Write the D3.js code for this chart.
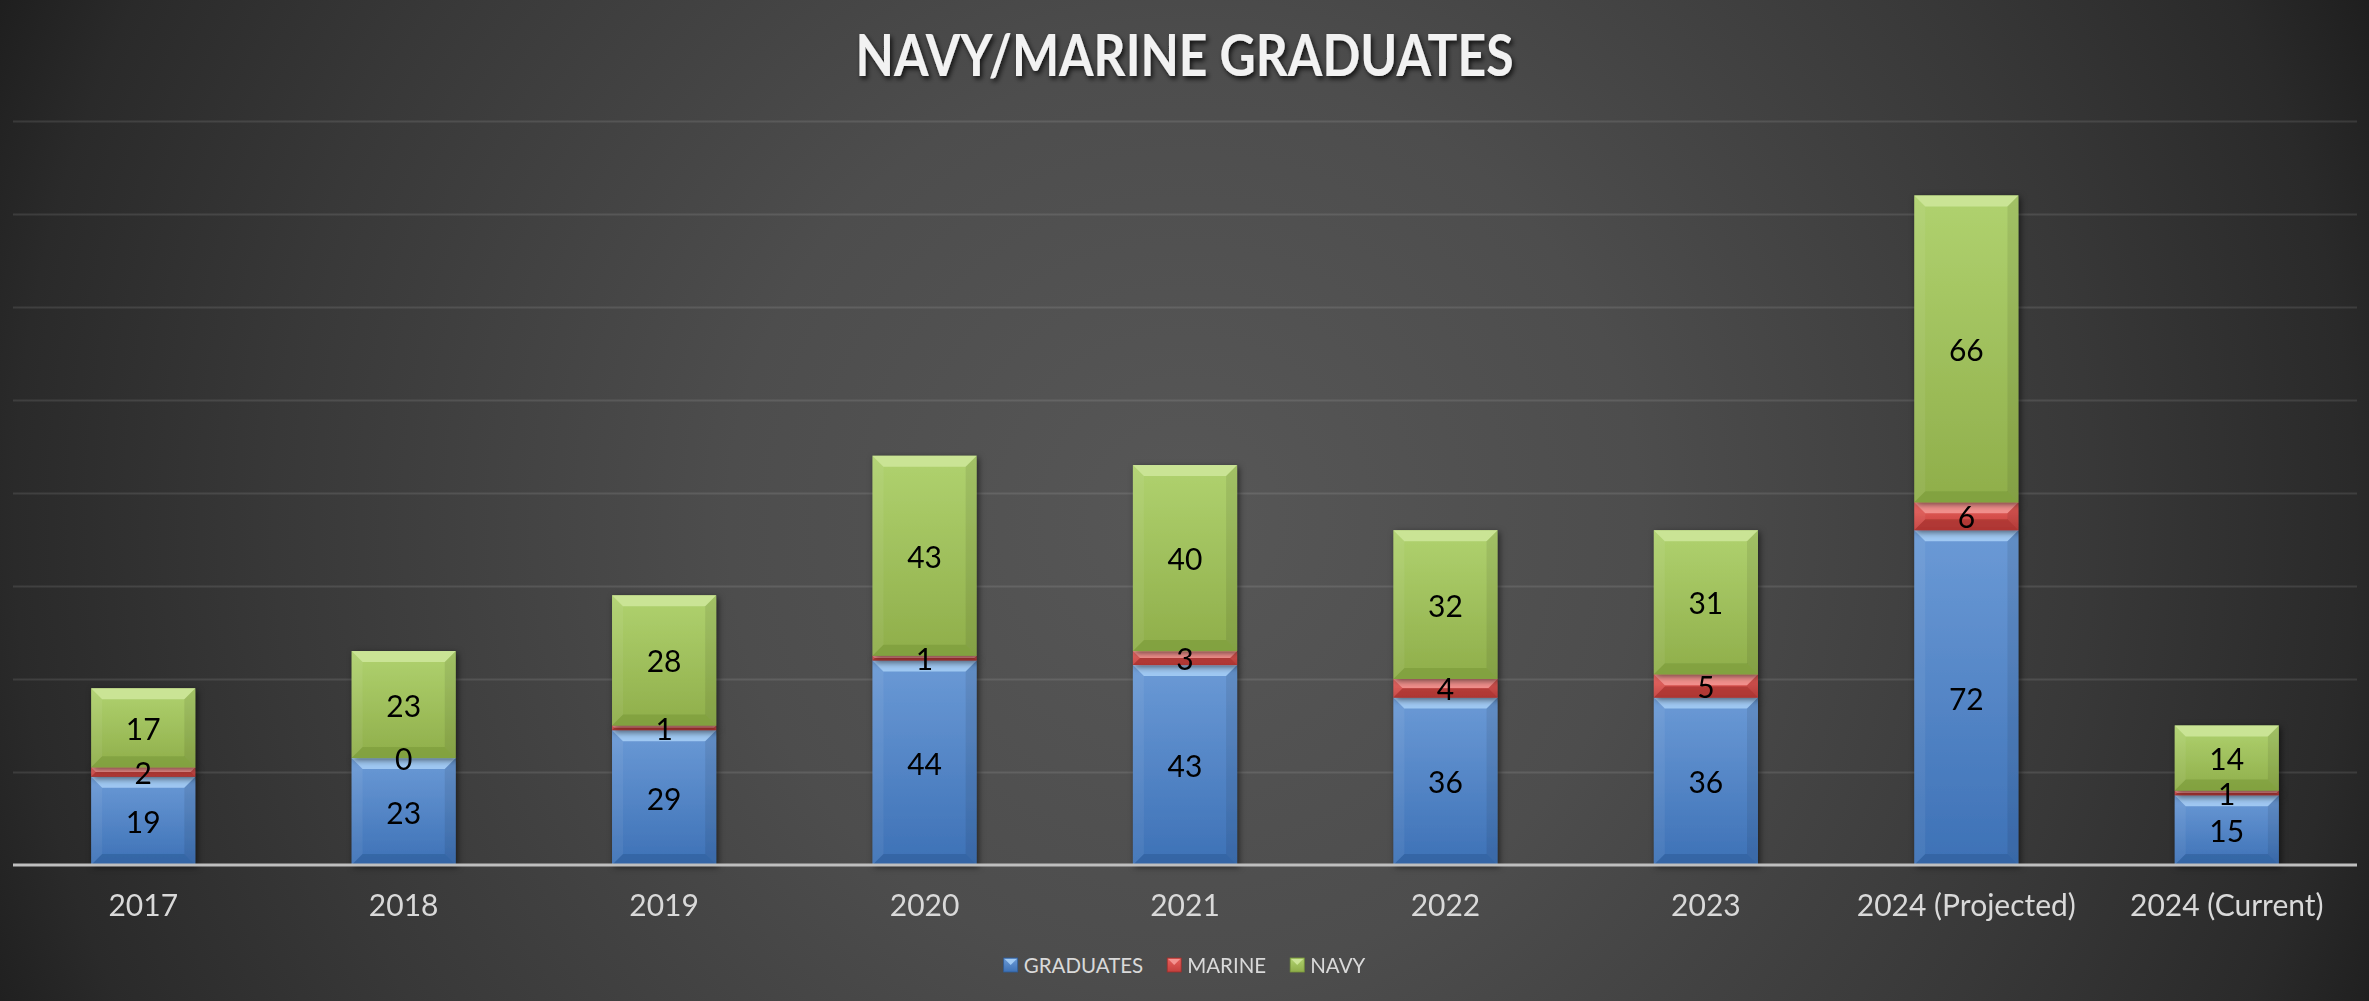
<!DOCTYPE html>
<html>
<head>
<meta charset="utf-8">
<script src="https://cdn.jsdelivr.net/npm/d3@7"></script>
<style>
  html, body { margin: 0; padding: 0; background: #222; overflow: hidden; }
  svg { display: block; }
</style>
</head>
<body>
<div id="chart"></div>
<script>
// chart data
const categories = ["2017", "2018", "2019", "2020", "2021", "2022", "2023", "2024 (Projected)", "2024 (Current)"];
const graduates = [19, 23, 29, 44, 43, 36, 36, 72, 15];
const marine = [2, 0, 1, 1, 3, 4, 5, 6, 1];
const navy = [17, 23, 28, 43, 40, 32, 31, 66, 14];
const seriesNames = ["GRADUATES", "MARINE", "NAVY"];
const yTicks = [0, 20, 40, 60, 80, 100, 120, 140, 160];
const chartTitle = "NAVY/MARINE GRADUATES";

const W = 2369, H = 1001;
const margin = {top: 121, right: 12, bottom: 136, left: 13};
const font = "Lato, 'Open Sans', sans-serif";

// base / light / dark colours for each series
const palette = {
    GRADUATES: {top: "#6b9ad6", bottom: "#3d71b6", light: "#a9d0f7", dark: "#2f5d99"},
    MARINE: {top: "#e8605c", bottom: "#c4403d", light: "#f59a97", dark: "#9e2f2c"},
    NAVY: {top: "#b0d26f", bottom: "#8fae4a", light: "#cfe79c", dark: "#7a9a3a"}
};

const svg = d3.select("#chart").append("svg")
    .attr("width", W)
    .attr("height", H);

const defs = svg.append("defs");

// radial background
const bg = defs.append("radialGradient")
    .attr("id", "bg")
    .attr("gradientUnits", "userSpaceOnUse")
    .attr("cx", W / 2).attr("cy", 520).attr("r", 1300);
[[0, "#575757"], [0.35, "#4d4d4d"], [0.7, "#383838"], [0.9, "#2a2a2a"], [1, "#1e1e1e"]].forEach(s => {
    bg.append("stop").attr("offset", s[0]).attr("stop-color", s[1]);
});

seriesNames.forEach(name => {
    const g = defs.append("linearGradient")
        .attr("id", "grad-" + name)
        .attr("x1", 0).attr("y1", 0).attr("x2", 0).attr("y2", 1);
    g.append("stop").attr("offset", 0).attr("stop-color", palette[name].top);
    g.append("stop").attr("offset", 1).attr("stop-color", palette[name].bottom);
});

const shadow = defs.append("filter").attr("id", "shadow")
    .attr("x", "-20%").attr("y", "-20%").attr("width", "140%").attr("height", "140%");
shadow.append("feDropShadow")
    .attr("dx", 2).attr("dy", 2).attr("stdDeviation", 3)
    .attr("flood-color", "#000").attr("flood-opacity", 0.55);

const titleShadow = defs.append("filter").attr("id", "tshadow")
    .attr("x", "-10%").attr("y", "-30%").attr("width", "120%").attr("height", "160%");
titleShadow.append("feDropShadow")
    .attr("dx", 2).attr("dy", 3).attr("stdDeviation", 2.5)
    .attr("flood-color", "#000").attr("flood-opacity", 0.75);

svg.append("rect")
    .attr("width", W).attr("height", H)
    .attr("fill", "url(#bg)");

const innerW = W - margin.left - margin.right;
const innerH = H - margin.top - margin.bottom;

const g = svg.append("g")
    .attr("transform", "translate(" + margin.left + "," + margin.top + ")");

const x = d3.scaleBand()
    .domain(categories)
    .range([0, innerW])
    .paddingInner(0.6)
    .paddingOuter(0.3);

const y = d3.scaleLinear()
    .domain([0, 160])
    .range([innerH, 0]);

// gridlines
const yAxis = d3.axisLeft(y).tickValues(yTicks).tickSize(-innerW).tickFormat("");
const grid = g.append("g").attr("class", "grid").call(yAxis);
grid.select(".domain").remove();
grid.selectAll(".tick line")
    .attr("stroke", "#ffffff")
    .attr("stroke-opacity", 0.1)
    .attr("stroke-width", 2);
grid.selectAll(".tick").filter(d => d === 0).remove();

// stacked data
const rows = categories.map((c, i) => ({
    category: c,
    GRADUATES: graduates[i],
    MARINE: marine[i],
    NAVY: navy[i]
}));
const stacked = d3.stack().keys(seriesNames)(rows);

function bevel(sel, name) {
    sel.each(function (d) {
        const el = d3.select(this);
        const bx = x(d.data.category);
        const bw = x.bandwidth();
        const by = y(d[1]);
        const bh = y(d[0]) - y(d[1]);
        if (bh <= 0) return;
        const b = Math.min(11, bh / 2, bw / 2);
        el.append("rect")
            .attr("x", bx).attr("y", by)
            .attr("width", bw).attr("height", bh)
            .attr("fill", "url(#grad-" + name + ")");
        const pts = (arr) => arr.map(p => p.join(",")).join(" ");
        // top bevel
        el.append("polygon")
            .attr("points", pts([[bx, by], [bx + bw, by], [bx + bw - b, by + b], [bx + b, by + b]]))
            .attr("fill", palette[name].light).attr("opacity", 0.85);
        // bottom bevel
        el.append("polygon")
            .attr("points", pts([[bx, by + bh], [bx + bw, by + bh], [bx + bw - b, by + bh - b], [bx + b, by + bh - b]]))
            .attr("fill", palette[name].dark).attr("opacity", 0.6);
        // left / right bevel
        el.append("polygon")
            .attr("points", pts([[bx, by], [bx + b, by + b], [bx + b, by + bh - b], [bx, by + bh]]))
            .attr("fill", "#ffffff").attr("opacity", 0.06);
        el.append("polygon")
            .attr("points", pts([[bx + bw, by], [bx + bw - b, by + b], [bx + bw - b, by + bh - b], [bx + bw, by + bh]]))
            .attr("fill", "#000000").attr("opacity", 0.08);
    });
}

const layers = g.selectAll(".layer")
    .data(stacked)
    .join("g")
    .attr("class", "layer")
    .attr("filter", "url(#shadow)");

layers.each(function (s) {
    d3.select(this).selectAll(".seg")
        .data(s)
        .join("g")
        .attr("class", "seg")
        .call(bevel, s.key);
});

// x axis baseline + labels
const xAxis = d3.axisBottom(x).tickSize(0).tickPadding(30);
const xg = g.append("g")
    .attr("transform", "translate(0," + innerH + ")")
    .call(xAxis);
xg.select(".domain")
    .attr("d", "M0,0H" + innerW)
    .attr("stroke", "#bfbfbf")
    .attr("stroke-width", 3);
xg.selectAll("text")
    .attr("fill", "#d9d9d9")
    .style("font-family", font)
    .style("font-size", "30px");

// data labels
stacked.forEach(s => {
    g.append("g").selectAll("text")
        .data(s)
        .join("text")
        .attr("x", d => x(d.data.category) + x.bandwidth() / 2)
        .attr("y", d => (y(d[0]) + y(d[1])) / 2)
        .attr("text-anchor", "middle")
        .attr("dominant-baseline", "central")
        .style("font-family", font)
        .style("font-size", "30px")
        .attr("fill", "#000")
        .text(d => d.data[s.key]);
});

// title
svg.append("text")
    .attr("x", W / 2)
    .attr("y", 76)
    .attr("text-anchor", "middle")
    .attr("fill", "#f2f2f2")
    .attr("filter", "url(#tshadow)")
    .style("font-family", font)
    .style("font-weight", "700")
    .style("font-size", "58px")
    .attr("textLength", 658)
    .attr("lengthAdjust", "spacingAndGlyphs")
    .text(chartTitle);

// legend
const legend = svg.append("g").attr("class", "legend");
let lx = 0;
seriesNames.forEach(name => {
    const item = legend.append("g").attr("transform", "translate(" + lx + ",0)");
    item.append("rect")
        .attr("x", 0).attr("y", -7)
        .attr("width", 14).attr("height", 14)
        .attr("fill", "url(#grad-" + name + ")")
        .attr("stroke", palette[name].dark).attr("stroke-width", 0.8);
    item.append("polygon")
        .attr("points", "1,-6 13,-6 7,0")
        .attr("fill", palette[name].light).attr("opacity", 0.9);
    const t = item.append("text")
        .attr("x", 20)
        .attr("y", 0)
        .attr("dominant-baseline", "central")
        .attr("fill", "#d9d9d9")
        .style("font-family", font)
        .style("font-size", "20.5px")
        .text(name);
    lx += 20 + t.node().getComputedTextLength() + 24;
});
const lw = lx - 24;
legend.attr("transform", "translate(" + (W / 2 - lw / 2) + ",965)");
</script>
</body>
</html>
